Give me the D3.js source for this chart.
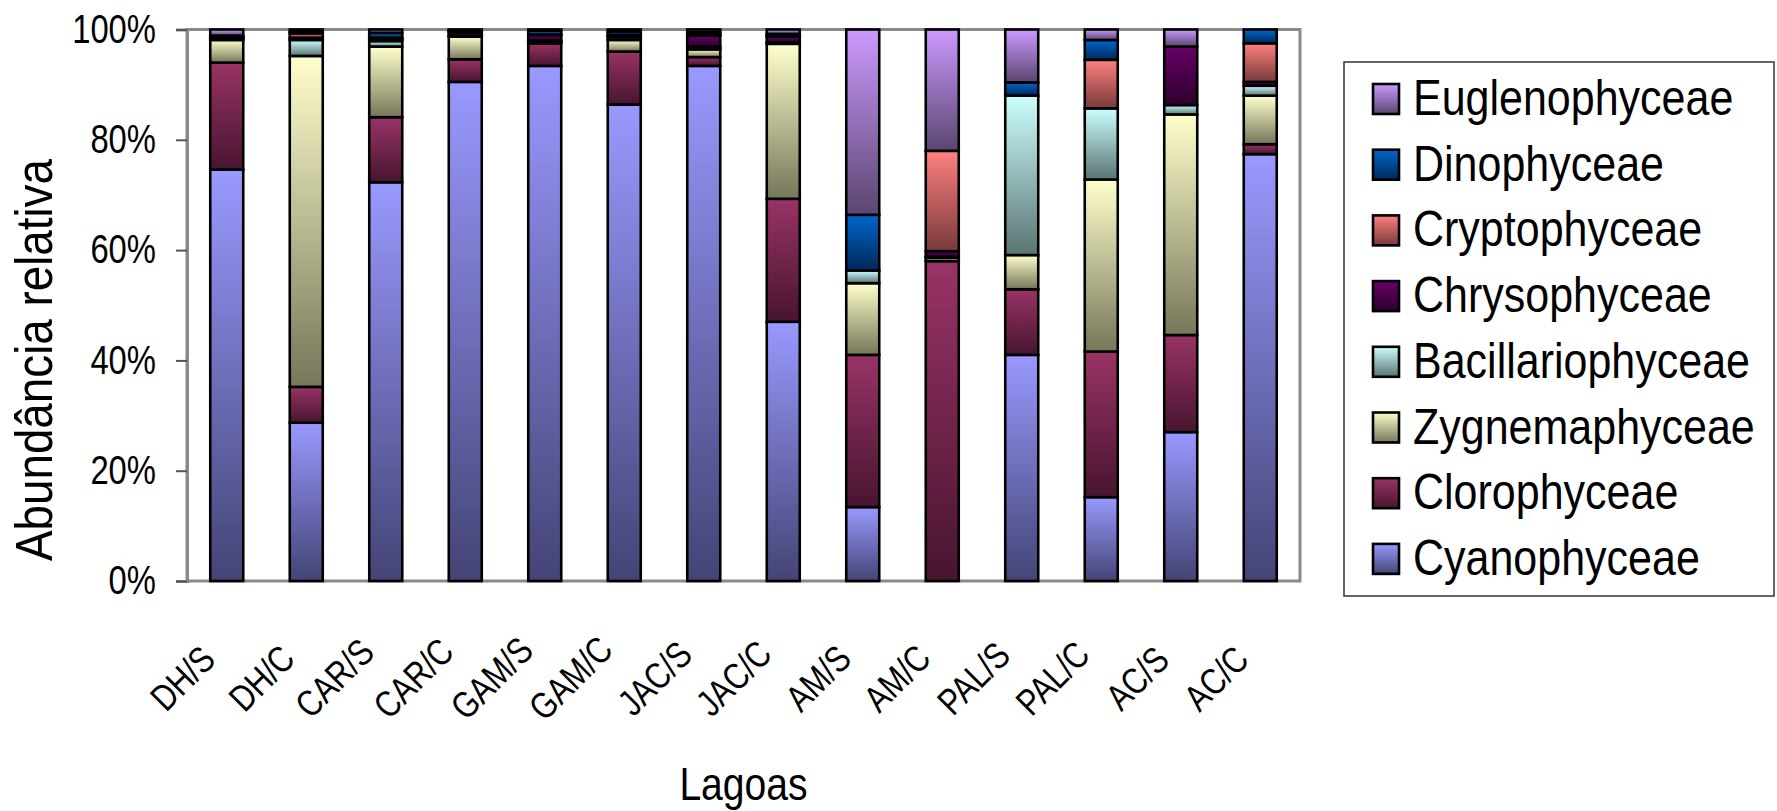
<!DOCTYPE html>
<html>
<head>
<meta charset="utf-8">
<script src="https://cdn.jsdelivr.net/npm/d3@7"></script>
<style>
  html, body { margin: 0; padding: 0; background: #fff; }
  svg { display: block; }
  text { font-family: "Liberation Sans", Arial, sans-serif; fill: #000; }
</style>
</head>
<body>
<svg id="chart" width="1777" height="811"></svg>
<script>
// Lagoas sampled (S / C)
const categories = ["DH/S", "DH/C", "CAR/S", "CAR/C", "GAM/S", "GAM/C", "JAC/S",
                    "JAC/C", "AM/S", "AM/C", "PAL/S", "PAL/C", "AC/S", "AC/C"];

// Relative abundance (%) of each algal class, in the order of categories
const cyanophyceae      = [74.6, 28.7, 72.3, 90.5, 93.4, 86.4, 93.4, 47.0, 13.4,  0.0, 41.0, 15.2, 27.0, 77.4];
const clorophyceae      = [19.4,  6.5, 11.8,  4.1,  4.1,  9.6,  1.6, 22.3, 27.6, 58.0, 11.9, 26.4, 17.6,  1.8];
const zygnemaphyceae    = [ 4.1, 60.0, 12.8,  4.1,  0.3,  2.1,  1.4, 28.1, 13.0,  0.6,  6.2, 31.2, 40.0,  8.8];
const bacillariophyceae = [ 0.3,  2.9,  1.0,  0.2,  0.2,  0.5,  0.5,  0.3,  2.3,  0.2, 28.9, 12.9,  1.7,  1.8];
const chrysophyceae     = [ 0.3,  0.4,  0.4,  0.6,  1.0,  0.3,  2.0,  1.0,  0.0,  1.0,  0.0,  0.0, 10.6,  0.7];
const cryptophyceae     = [ 0.0,  0.8,  0.2,  0.2,  0.1,  0.1,  0.1,  0.2,  0.0, 18.2,  0.0,  8.8,  0.0,  7.0];
const dinophyceae       = [ 0.2,  0.3,  0.9,  0.1,  0.7,  0.6,  0.5,  0.3, 10.1,  0.0,  2.4,  3.6,  0.0,  2.5];
const euglenophyceae    = [ 1.1,  0.4,  0.6,  0.2,  0.2,  0.4,  0.5,  0.8, 33.6, 22.0,  9.6,  1.9,  3.1,  0.0];

const yTicks = [0, 0.2, 0.4, 0.6, 0.8, 1.0];

// Stack order, bottom to top, with gradient colours (top, bottom)
const series = [
  { name: "Cyanophyceae",      values: cyanophyceae,      top: "#9999ff", bottom: "#444476" },
  { name: "Clorophyceae",      values: clorophyceae,      top: "#993366", bottom: "#48152f" },
  { name: "Zygnemaphyceae",    values: zygnemaphyceae,    top: "#ffffcc", bottom: "#76765a" },
  { name: "Bacillariophyceae", values: bacillariophyceae, top: "#ccffff", bottom: "#5a7472" },
  { name: "Chrysophyceae",     values: chrysophyceae,     top: "#660066", bottom: "#2c002c" },
  { name: "Cryptophyceae",     values: cryptophyceae,     top: "#ff8080", bottom: "#783a3a" },
  { name: "Dinophyceae",       values: dinophyceae,       top: "#0066cc", bottom: "#00285a" },
  { name: "Euglenophyceae",    values: euglenophyceae,    top: "#cc99ff", bottom: "#5a4670" }
];

const svg = d3.select("#chart");
const plot = { left: 187, right: 1300, top: 29.5, bottom: 581 };

// Gradients: light at top of each segment, dark at its bottom
const defs = svg.append("defs");
series.forEach((s, i) => {
  const g = defs.append("linearGradient")
    .attr("id", "grad" + i)
    .attr("x1", 0).attr("y1", 0).attr("x2", 0).attr("y2", 1);
  g.append("stop").attr("offset", "0%").attr("stop-color", s.top);
  g.append("stop").attr("offset", "100%").attr("stop-color", s.bottom);
});

const x = d3.scaleBand()
  .domain(categories)
  .range([plot.left, plot.right])
  .paddingInner(0.585)
  .paddingOuter(0.2925);

const y = d3.scaleLinear().domain([0, 1]).range([plot.bottom, plot.top]);

// Table for the stack generator
const rows = categories.map((c, j) => {
  const r = { cat: c };
  series.forEach(s => { r[s.name] = s.values[j]; });
  return r;
});
const stacked = d3.stack()
  .keys(series.map(s => s.name))
  .offset(d3.stackOffsetExpand)(rows);

// Plot area frame
svg.append("rect")
  .attr("x", plot.left).attr("y", plot.top)
  .attr("width", plot.right - plot.left).attr("height", plot.bottom - plot.top)
  .attr("fill", "none").attr("stroke", "#8a8a8a").attr("stroke-width", 3);

// Bars
const layers = svg.append("g").selectAll("g")
  .data(stacked)
  .join("g")
  .attr("fill", (d, i) => "url(#grad" + i + ")");

layers.selectAll("rect")
  .data(d => d.filter(p => p[1] - p[0] > 0))
  .join("rect")
  .attr("x", p => x(p.data.cat))
  .attr("width", x.bandwidth())
  .attr("y", p => y(p[1]))
  .attr("height", p => y(p[0]) - y(p[1]))
  .attr("stroke", "#000")
  .attr("stroke-width", 2.6);

// Y axis
const tickScaleX = 0.82;
const yAxis = svg.append("g")
  .attr("transform", `translate(${plot.left},0)`)
  .call(d3.axisLeft(y).tickValues(yTicks).tickFormat(d3.format(".0%")).tickSize(11).tickPadding(20));
yAxis.select(".domain").attr("stroke", "#8a8a8a").attr("stroke-width", 3);
yAxis.selectAll(".tick line").attr("stroke", "#555").attr("stroke-width", 2);
yAxis.selectAll(".tick text")
  .attr("font-size", 40)
  .attr("font-family", "Liberation Sans, Arial, sans-serif")
  .attr("fill", "#000")
  .attr("x", -31 / tickScaleX)
  .attr("transform", `scale(${tickScaleX},1)`);

// Category labels, rotated 45°
categories.forEach(c => {
  const cx = x(c) + x.bandwidth() / 2;
  const g = svg.append("g").attr("transform", `translate(${cx},678)`);
  g.append("text")
    .attr("text-anchor", "middle")
    .attr("dominant-baseline", "central")
    .attr("font-size", 37)
    .attr("transform", "rotate(-45) scale(0.82,1)")
    .text(c);
  const w = g.node().getBoundingClientRect().width;
  g.attr("transform", `translate(${cx - 4 - w / 2},678)`);
});

// Axis titles
svg.append("text")
  .attr("transform", "translate(52,360) rotate(-90) scale(0.88,1)")
  .attr("text-anchor", "middle")
  .attr("font-size", 52)
  .text("Abundância relativa");

svg.append("text")
  .attr("transform", `translate(${(plot.left + plot.right) / 2},800) scale(0.85,1)`)
  .attr("text-anchor", "middle")
  .attr("font-size", 46)
  .text("Lagoas");

// Legend
const legend = svg.append("g");
legend.append("rect")
  .attr("x", 1344).attr("y", 62).attr("width", 430).attr("height", 534)
  .attr("fill", "#fff").attr("stroke", "#333").attr("stroke-width", 1.5);

const legendItems = series.map((s, i) => ({ s, i })).reverse();
legendItems.forEach((d, k) => {
  const base = 115 + 65.7 * k;
  legend.append("rect")
    .attr("x", 1373).attr("y", base - 31).attr("width", 26).attr("height", 30)
    .attr("fill", "url(#grad" + d.i + ")")
    .attr("stroke", "#000").attr("stroke-width", 2.6);
  legend.append("text")
    .attr("transform", `translate(1413,${base}) scale(0.86,1)`)
    .attr("font-size", 50)
    .text(d.s.name);
});
</script>
</body>
</html>
